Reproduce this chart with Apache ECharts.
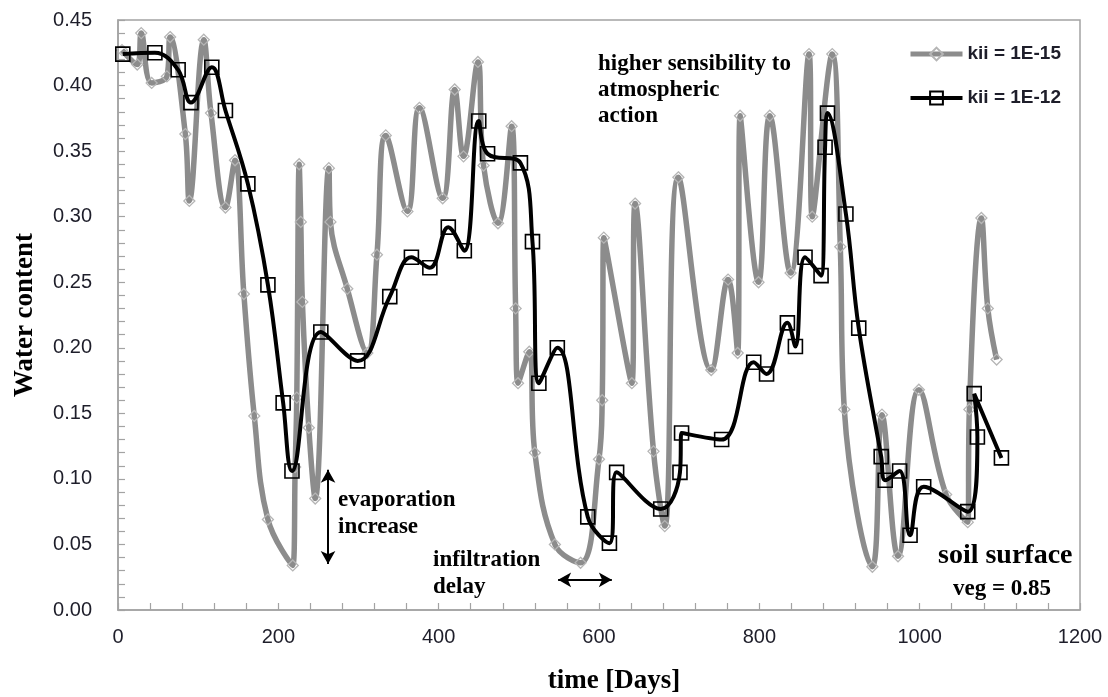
<!DOCTYPE html>
<html>
<head>
<meta charset="utf-8">
<script src="https://cdn.jsdelivr.net/npm/echarts@6/dist/echarts.min.js"></script>
<style>
  html, body { margin: 0; padding: 0; background: #fff; }
  #chart { width: 1108px; height: 697px; }
</style>
</head>
<body>
<div id="chart"></div>
<script>
// Series names (legend)
const seriesNames = ['kii = 1E-15', 'kii = 1E-12'];

// kii = 1E-15 : time [days] and water content
const daysK15 = [5, 24, 29, 42, 61, 65, 84, 89, 107, 116, 134, 146, 157, 170, 187, 218,
  221, 223, 226, 228, 230, 238, 246, 263, 265, 286, 311, 323, 334, 361, 376, 405, 420, 431,
  449, 456, 474, 491, 496, 499, 513, 520, 545, 577, 600, 604, 606, 641, 645, 668, 682, 699,
  740, 761, 773, 776, 799, 813, 839, 862, 866, 891, 901, 906, 941, 953, 973, 999, 1033,
  1060, 1062, 1077, 1085, 1096];
const waterK15 = [0.427, 0.416, 0.440, 0.402, 0.407, 0.437, 0.363, 0.312, 0.435, 0.379, 0.307,
  0.343, 0.241, 0.148, 0.069, 0.034, 0.109, 0.162, 0.340, 0.296, 0.235, 0.139, 0.085, 0.337,
  0.296, 0.245, 0.196, 0.271, 0.362, 0.304, 0.383, 0.314, 0.397, 0.346, 0.418, 0.339, 0.295,
  0.369, 0.230, 0.173, 0.197, 0.120, 0.050, 0.036, 0.115, 0.160, 0.284, 0.173, 0.310, 0.121,
  0.064, 0.330, 0.183, 0.252, 0.196, 0.377, 0.250, 0.377, 0.257, 0.424, 0.300, 0.424, 0.277,
  0.153, 0.033, 0.149, 0.041, 0.168, 0.088, 0.067, 0.153, 0.299, 0.230, 0.191];

// kii = 1E-12 : time [days] and water content
const daysK12 = [6, 46, 75, 91, 117, 134, 162, 187, 206, 217, 253, 299, 339, 366, 389, 412,
  432, 450, 461, 502, 517, 525, 548, 586, 613, 622, 677, 701, 703, 753, 793, 809, 835, 845,
  857, 877, 882, 885, 908, 924, 952, 957, 975, 988, 1005, 1060, 1072, 1068, 1102];
const waterK12 = [0.424, 0.425, 0.412, 0.387, 0.414, 0.381, 0.325, 0.248, 0.158, 0.106, 0.212,
  0.190, 0.239, 0.269, 0.261, 0.292, 0.274, 0.373, 0.348, 0.341, 0.281, 0.173, 0.200, 0.071,
  0.051, 0.105, 0.077, 0.105, 0.135, 0.130, 0.189, 0.180, 0.219, 0.201, 0.269, 0.255, 0.353,
  0.379, 0.302, 0.215, 0.117, 0.099, 0.106, 0.057, 0.094, 0.075, 0.132, 0.165, 0.116];

// Axis ranges
const xRange = [0, 1200, 200];
const yRange = [0, 0.45, 0.05];

// Annotation arrows: [x1, y1, x2, y2] in data units
const arrowEvaporation = [262, 0.107, 262, 0.035];
const arrowInfiltration = [549, 0.023, 616, 0.023];

const pairs = (xs, ys) => xs.map((x, i) => [x, ys[i]]);

const chart = echarts.init(document.getElementById('chart'), null, { renderer: 'canvas' });

const serif = '"Liberation Serif", "Times New Roman", serif';
const sans = '"Liberation Sans", Arial, sans-serif';

const grayLine = { color: '#8c8c8c', width: 5.5 };
const blackLine = { color: '#000', width: 4 };
const grayMark = { color: 'rgba(255,255,255,0)', borderColor: '#b5b5b5', borderWidth: 1.3 };
const blackMark = { color: 'rgba(255,255,255,0)', borderColor: '#000', borderWidth: 1.6 };

const option = {
  animation: false,
  backgroundColor: '#ffffff',
  grid: {
    left: 118, right: 28, top: 20, bottom: 87,
    outerBoundsMode: 'none',
    containLabel: false,
    show: true, borderColor: '#a3a3a3', borderWidth: 1.5, backgroundColor: 'transparent'
  },
  legend: {
    orient: 'vertical',
    left: 903, top: 39,
    itemWidth: 52, itemHeight: 16, itemGap: 24,
    textStyle: { fontFamily: sans, fontWeight: 'bold', fontSize: 19, color: '#1e1e2a', lineHeight: 20 },
    data: [
      { name: seriesNames[0], lineStyle: { width: 5, color: '#8c8c8c' } },
      { name: seriesNames[1], lineStyle: { width: 4, color: '#000' } }
    ]
  },
  xAxis: {
    type: 'value',
    min: xRange[0], max: xRange[1], interval: xRange[2],
    name: 'time [Days]',
    nameLocation: 'middle',
    nameGap: 58,
    nameTextStyle: { fontFamily: serif, fontWeight: 'bold', fontSize: 27, color: '#000', padding: [0, 0, 0, 30] },
    axisLine: { show: true, lineStyle: { color: '#a3a3a3', width: 1.5 } },
    axisTick: { show: true, inside: true, length: 7, lineStyle: { color: '#a3a3a3', width: 1.2 } },
    minorTick: { show: true, splitNumber: 5, length: 7, lineStyle: { color: '#a3a3a3', width: 1.2 } },
    splitLine: { show: false },
    axisLabel: { margin: 17, fontFamily: sans, fontSize: 20, color: '#1e1e2a', formatter: v => String(v) }
  },
  yAxis: {
    type: 'value',
    min: yRange[0], max: yRange[1], interval: yRange[2],
    name: 'Water content',
    nameLocation: 'middle',
    nameGap: 79,
    nameRotate: 90,
    nameTextStyle: { fontFamily: serif, fontWeight: 'bold', fontSize: 27, color: '#000' },
    axisLine: { show: true, lineStyle: { color: '#a3a3a3', width: 1.5 } },
    axisTick: { show: true, inside: true, length: 7, lineStyle: { color: '#a3a3a3', width: 1.2 } },
    minorTick: { show: true, splitNumber: 5, length: 7, lineStyle: { color: '#a3a3a3', width: 1.2 } },
    splitLine: { show: false },
    axisLabel: {
      margin: 26, fontFamily: sans, fontSize: 20, color: '#1e1e2a',
      formatter: v => v.toFixed(2)
    }
  },
  series: [
    {
      name: seriesNames[0],
      type: 'line',
      smooth: 0.4,
      data: pairs(daysK15, waterK15),
      symbol: 'diamond',
      symbolSize: 11,
      lineStyle: grayLine,
      itemStyle: grayMark,
      emphasis: { disabled: true },
      z: 2
    },
    {
      name: seriesNames[1],
      type: 'line',
      smooth: 0.4,
      data: pairs(daysK12, waterK12),
      symbol: 'rect',
      symbolSize: 14,
      lineStyle: blackLine,
      itemStyle: blackMark,
      emphasis: { disabled: true },
      z: 3,
      markLine: {
        silent: true,
        symbol: ['arrow', 'arrow'],
        symbolSize: [11, 13],
        label: { show: false },
        lineStyle: { color: '#000', width: 2, type: 'solid' },
        emphasis: { disabled: true },
        data: [
          [{ coord: [arrowEvaporation[0], arrowEvaporation[1]] }, { coord: [arrowEvaporation[2], arrowEvaporation[3]] }],
          [{ coord: [arrowInfiltration[0], arrowInfiltration[1]] }, { coord: [arrowInfiltration[2], arrowInfiltration[3]] }]
        ]
      }
    }
  ],
  graphic: [
    {
      type: 'text', left: 598, top: 51, silent: true,
      style: { text: 'higher sensibility to\natmospheric\naction', font: 'bold 23px ' + serif, fill: '#000', lineHeight: 26 }
    },
    {
      type: 'text', left: 338, top: 487, silent: true,
      style: { text: 'evaporation\nincrease', font: 'bold 23px ' + serif, fill: '#000', lineHeight: 27 }
    },
    {
      type: 'text', left: 433, top: 547, silent: true,
      style: { text: 'infiltration\ndelay', font: 'bold 23px ' + serif, fill: '#000', lineHeight: 27 }
    },
    {
      type: 'text', left: 938, top: 542, silent: true,
      style: { text: 'soil surface', font: 'bold 28px ' + serif, fill: '#000' }
    },
    {
      type: 'text', left: 953, top: 578, silent: true,
      style: { text: 'veg = 0.85', font: 'bold 23px ' + serif, fill: '#000' }
    }
  ]
};

chart.setOption(option);
</script>
</body>
</html>
